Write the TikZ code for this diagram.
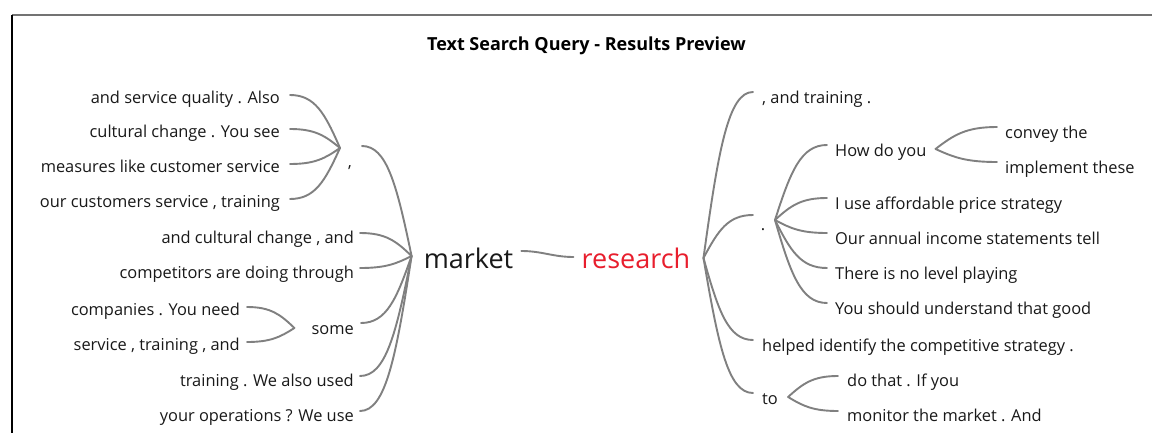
\documentclass[tikz,border=0pt]{standalone}
\usepackage{fontspec}
\setmainfont{Open Sans}
\usetikzlibrary{calc}
\definecolor{linkgray}{RGB}{128,128,128}
\definecolor{txt}{RGB}{25,25,25}
\definecolor{redword}{RGB}{232,30,45}
\tikzset{
  leaf/.style={inner sep=0pt, font=\fontsize{16.4}{18}\selectfont, text height=16.4pt, text depth=4pt, text=txt},
  lleaf/.style={leaf, anchor=east},
  rleaf/.style={leaf, anchor=west},
  big/.style={inner sep=0pt, font=\fontsize{27}{30}\selectfont, text height=20.5pt, text depth=4.6pt},
  link/.style={draw=linkgray, line width=1.9pt, line cap=round},
}
\newcommand\fan[2]{\draw[link] let \p1=(#1), \p2=(#2) in (\p1) .. controls ({0.5*\x1+0.5*\x2},\y1) and ({0.3*\x1+0.7*\x2},{0.65*\y1+0.35*\y2}) .. (\p2);}
\begin{document}
\begin{tikzpicture}[x=1pt,y=-1pt]
\useasboundingbox (0,0) rectangle (1152,433);
\fill[white] (0,0) rectangle (1152,433);
% frame
\draw[line width=1.5pt, black!55] (12,15) -- (1160,15);
\draw[line width=1.8pt, black] (12,15) -- (12,440);
% title
\node[font=\fontsize{18}{20}\selectfont\bfseries, text=black, inner sep=0pt, text height=13pt, text depth=0pt] (title) at (586.5,44.5) {Text Search Query - Results Preview};
% centre words
\node[big, text=txt] (market) at (468.5,261) {market};
\node[big, text=redword] (research) at (636,261) {research};
\draw[link] ([xshift=8pt,yshift=10pt]market.east) to[out=0,in=180] ([xshift=-8pt,yshift=4pt]research.west);
\coordinate (M) at ([xshift=-12pt,yshift=5pt]market.west);
\coordinate (R) at ([xshift=13pt,yshift=3pt]research.east);
% left tree
\node[lleaf] (a1) at (280,97) {and service quality . Also};
\node[lleaf] (a2) at (280,131) {cultural change . You see};
\node[lleaf] (a3) at (280,166) {measures like customer service};
\node[lleaf] (a4) at (280,201) {our customers service , training};
\node[leaf] (comma) at (350,161) {,};
\node[lleaf] (b1) at (354,237) {and cultural change , and};
\node[lleaf] (b2) at (354,272) {competitors are doing through};
\node[lleaf] (c1) at (240,309) {companies . You need};
\node[lleaf] (c2) at (240,344) {service , training , and};
\node[lleaf] (some) at (354,328) {some};
\node[lleaf] (b3) at (354,380) {training . We also used};
\node[lleaf] (b4) at (354,415) {your operations ? We use};
\coordinate (C) at ([xshift=-10pt,yshift=13pt]comma.center);
\coordinate (S) at ([xshift=-17pt]some.west);
\foreach \q in {a1,a2,a3,a4} {\fan{[xshift=10pt,yshift=2pt]\q.east}{C}}
\foreach \q in {c1,c2} {\fan{[xshift=7pt,yshift=2pt]\q.east}{S}}
\fan{[xshift=12pt,yshift=15pt]comma.center}{M}
\foreach \q in {b1,b2,b3,b4} {\fan{[xshift=6pt,yshift=4pt]\q.east}{M}}
\fan{[xshift=7pt,yshift=5pt]some.east}{M}
% right tree
\node[rleaf] (r1) at (762,97) {, and training .};
\node[leaf] (dot) at (763,224) {.};
\node[rleaf] (h) at (835,150) {How do you};
\node[rleaf] (h1) at (1005,132) {convey the};
\node[rleaf] (h2) at (1005,167) {implement these};
\node[rleaf] (d2) at (835,203) {I use affordable price strategy};
\node[rleaf] (d3) at (835,238) {Our annual income statements tell};
\node[rleaf] (d4) at (835,273) {There is no level playing};
\node[rleaf] (d5) at (835,308) {You should understand that good};
\node[rleaf] (r3) at (762,345) {helped identify the competitive strategy .};
\node[rleaf] (to) at (762,398) {to};
\node[rleaf] (t1) at (847,380) {do that . If you};
\node[rleaf] (t2) at (847,415) {monitor the market . And};
\coordinate (D) at ([xshift=12pt,yshift=4pt]dot.center);
\coordinate (H) at ([xshift=9pt,yshift=1pt]h.east);
\coordinate (T) at ([xshift=10pt,yshift=1pt]to.east);
\foreach \q in {r1,r3,to} {\fan{[xshift=-9pt,yshift=5pt]\q.west}{R}}
\fan{[xshift=-10pt,yshift=9pt]dot.center}{R}
\foreach \q in {h,d2,d3,d4,d5} {\fan{[xshift=-8pt,yshift=5pt]\q.west}{D}}
\foreach \q in {h1,h2} {\fan{[xshift=-8pt,yshift=5pt]\q.west}{H}}
\foreach \q in {t1,t2} {\fan{[xshift=-9pt,yshift=4pt]\q.west}{T}}
\end{tikzpicture}
\end{document}
